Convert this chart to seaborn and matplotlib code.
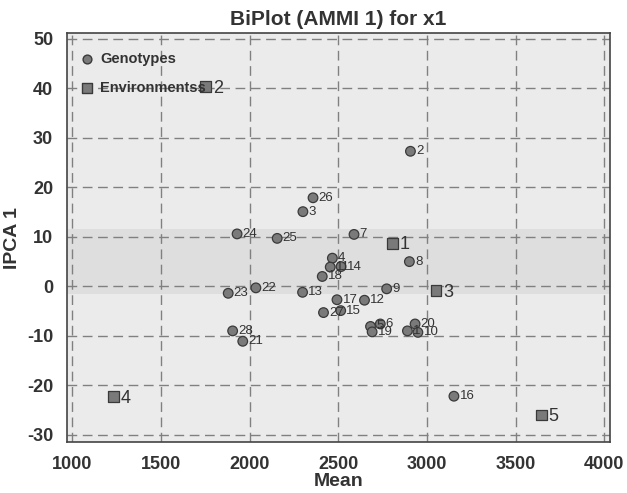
import numpy as np
import pandas as pd
import matplotlib
matplotlib.use('Agg')
import matplotlib.pyplot as plt
import seaborn as sns

# genotype scores (mean, IPCA 1)
geno_labels = ['2', '26', '3', '24', '25', '7', '4', '14', '18', '8', '9', '22', '23', '13',
               '17', '12', '27', '15', '28', '21', '16', '5', '6', '19', '1', '20', '10', '11']
geno_mean = [2907, 2358, 2301, 1930, 2156, 2589, 2467, 2516, 2410, 2901, 2773, 2036, 1880, 2299,
             2493, 2648, 2417, 2514, 1905, 1962, 3152, 2682, 2737, 2691, 2890, 2933, 2949, 2455]
geno_ipca = [27.3, 17.9, 15.1, 10.6, 9.7, 10.5, 5.7, 4.0, 2.0, 5.0, -0.5, -0.3, -1.4, -1.2,
             -2.7, -2.8, -5.3, -4.9, -9.0, -11.1, -22.2, -8.1, -7.6, -9.2, -9.0, -7.6, -9.3, 3.9]

# environment scores
env_labels = ['1', '2', '3', '4', '5']
env_mean = [2805, 1754, 3051, 1233, 3647]
env_ipca = [8.7, 40.3, -0.9, -22.3, -26.0]

xticks = [1000, 1500, 2000, 2500, 3000, 3500, 4000]
yticks = [-30, -20, -10, 0, 10, 20, 30, 40, 50]

df = pd.DataFrame({
    'Mean': geno_mean + env_mean,
    'IPCA 1': geno_ipca + env_ipca,
    'label': geno_labels + env_labels,
    'kind': ['Genotypes'] * len(geno_mean) + ['Environmentss'] * len(env_mean),
})

sns.set_theme(style='ticks')
plt.rcParams['font.family'] = ['Liberation Sans', 'DejaVu Sans']
plt.rcParams['axes.unicode_minus'] = False

fig = plt.figure(figsize=(6.27, 4.93), dpi=100)
ax = fig.add_axes([0.107, 0.103, 0.866, 0.83])
ax.set_facecolor('#ebebeb')
# scanned-looking darker band through the middle
ax.axhspan(-1.5, 11.5, color='#dedede', zorder=0, lw=0)

sns.scatterplot(data=df, x='Mean', y='IPCA 1', style='kind',
                markers={'Genotypes': 'o', 'Environmentss': 's'},
                size='kind', sizes={'Genotypes': 48, 'Environmentss': 62},
                color='#7a7a7a', edgecolor='#3a3a3a', linewidth=0.9,
                ax=ax, zorder=3, legend=False)

for i, row in df.iterrows():
    if row['kind'] == 'Genotypes':
        ax.annotate(row['label'], (row['Mean'], row['IPCA 1']), xytext=(4, 0),
                    textcoords='offset points', va='center', ha='left',
                    fontsize=9.5, color='#333333', zorder=4)
    else:
        ax.annotate(row['label'], (row['Mean'], row['IPCA 1']), xytext=(5, -1),
                    textcoords='offset points', va='center', ha='left',
                    fontsize=13, color='#333333', zorder=4)

# legend drawn as in the original, no frame
h1 = ax.scatter([], [], marker='o', s=40, color='#7a7a7a', edgecolor='#3a3a3a')
h2 = ax.scatter([], [], marker='s', s=48, color='#7a7a7a', edgecolor='#3a3a3a')
leg = ax.legend([h1, h2], ['Genotypes', 'Environmentss'], loc='upper left',
                bbox_to_anchor=(-0.02, 1.0),
                frameon=False, handletextpad=0.1, borderaxespad=0.9,
                handlelength=1.6, labelspacing=1.0, prop={'weight': 'bold', 'size': 10.5})
for t in leg.get_texts():
    t.set_color('#333333')

ax.set_xlim(972, 4032)
ax.set_ylim(-31.5, 51.2)
ax.set_xticks(xticks)
ax.set_yticks(yticks)
ax.grid(True, ls=(0, (7, 4)), color='#808080', lw=1.0, zorder=1)
ax.set_axisbelow(True)
ax.tick_params(length=0, pad=10, labelsize=13)
for lab in ax.get_xticklabels() + ax.get_yticklabels():
    lab.set_fontweight('bold')
    lab.set_color('#333333')
for s in ax.spines.values():
    s.set_color('#444444')
    s.set_linewidth(1.2)

ax.set_xlabel('Mean', fontsize=14, fontweight='bold', color='#333333', labelpad=0)
ax.set_ylabel('IPCA 1', fontsize=14, fontweight='bold', color='#333333', labelpad=4)
ax.set_title('BiPlot (AMMI 1) for x1', fontsize=15, fontweight='bold', color='#333333', pad=6)

fig.savefig('out.png', dpi=100)
